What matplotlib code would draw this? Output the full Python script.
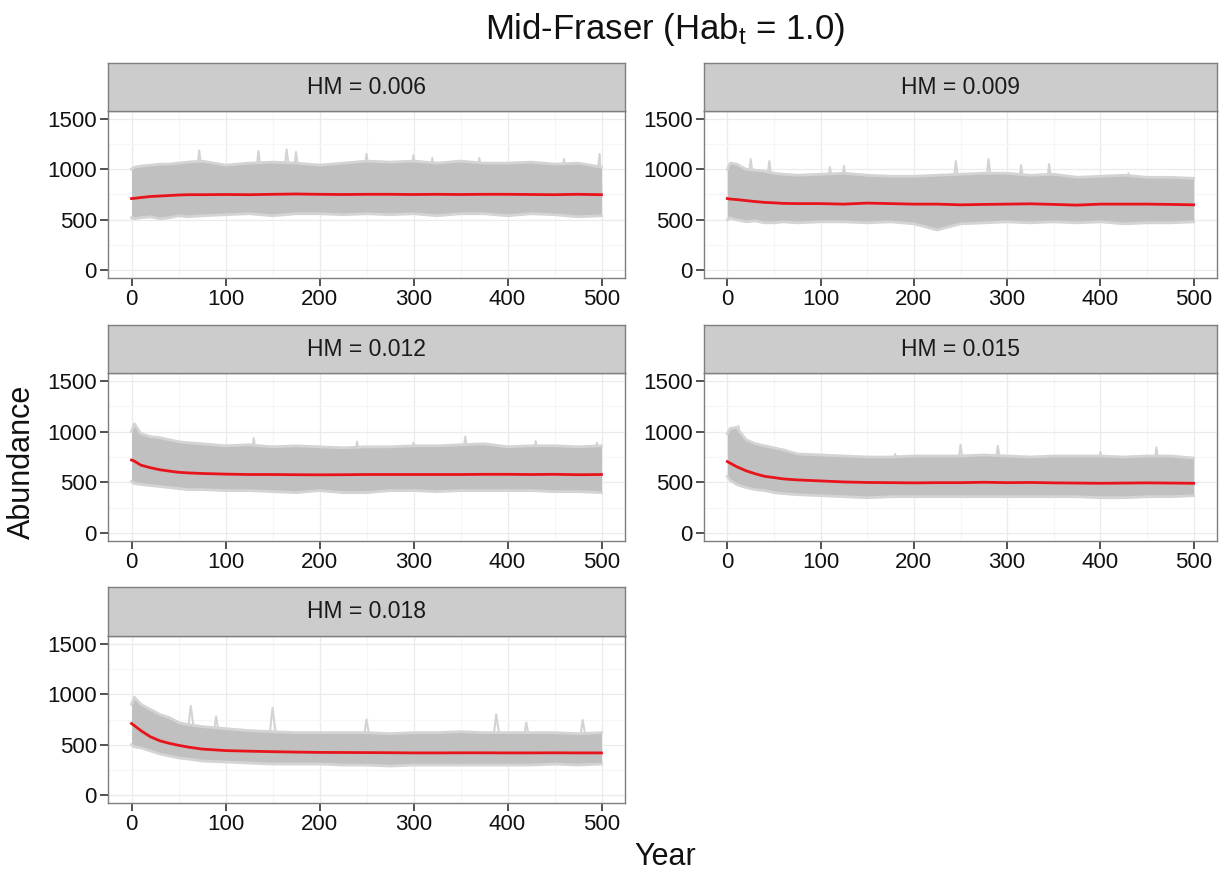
import numpy as np
import matplotlib
matplotlib.use("Agg")
import matplotlib.pyplot as plt

plt.rcParams['font.family'] = ['Liberation Sans', 'DejaVu Sans']
plt.rcParams['mathtext.fontset'] = 'custom'
plt.rcParams['mathtext.rm'] = 'Liberation Sans'
plt.rcParams['mathtext.it'] = 'Liberation Sans'

# ---------------- data ----------------
panel_labels = ["HM = 0.006", "HM = 0.009", "HM = 0.012", "HM = 0.015", "HM = 0.018"]
years = [0, 3, 10, 20, 30, 40, 50, 60, 75, 100, 125, 150, 175, 200, 225, 250,
         275, 300, 325, 350, 375, 400, 425, 450, 475, 500]

mean_006 = [710, 712, 720, 730, 735, 740, 745, 748, 748, 750, 748, 752, 755, 752, 750, 752,
            752, 750, 752, 750, 752, 752, 750, 748, 752, 748]
hi_006 = [1000, 1020, 1030, 1040, 1050, 1050, 1060, 1070, 1080, 1040, 1060, 1070, 1060, 1040, 1060, 1080,
          1070, 1080, 1060, 1080, 1060, 1060, 1070, 1050, 1060, 1020]
lo_006 = [520, 510, 520, 530, 510, 520, 540, 530, 540, 550, 560, 540, 560, 560, 550, 560,
          550, 560, 540, 560, 560, 540, 560, 550, 530, 540]
spk_yr_006 = [72, 135, 165, 175, 250, 300, 320, 370, 460, 498]
spk_pk_006 = [1185, 1180, 1195, 1170, 1150, 1140, 1110, 1110, 1100, 1150]

mean_009 = [710, 705, 700, 690, 680, 672, 668, 662, 660, 660, 655, 665, 660, 655, 655, 648,
            652, 655, 658, 652, 645, 655, 655, 655, 652, 648]
hi_009 = [1000, 1060, 1050, 1000, 990, 980, 960, 950, 940, 950, 960, 940, 930, 930, 940, 950,
          960, 960, 940, 950, 920, 930, 940, 920, 920, 910]
lo_009 = [500, 520, 500, 480, 490, 470, 470, 480, 470, 480, 480, 470, 480, 460, 400, 460,
          470, 480, 470, 480, 470, 480, 460, 470, 470, 480]
spk_yr_009 = [25, 45, 110, 125, 245, 280, 315, 345, 430]
spk_pk_009 = [1100, 1080, 1020, 1030, 1080, 1100, 1040, 1050, 960]

mean_012 = [720, 710, 670, 645, 625, 612, 600, 594, 588, 582, 578, 578, 576, 575, 576, 578,
            578, 578, 578, 578, 580, 580, 578, 580, 576, 578]
hi_012 = [1000, 1075, 980, 950, 940, 920, 900, 890, 880, 860, 870, 850, 860, 850, 840, 850,
          850, 860, 860, 870, 880, 850, 860, 860, 850, 860]
lo_012 = [510, 490, 480, 470, 460, 450, 440, 430, 430, 420, 420, 410, 400, 420, 400, 400,
          420, 420, 410, 420, 420, 420, 420, 410, 410, 400]
spk_yr_012 = [130, 240, 300, 355, 430, 495]
spk_pk_012 = [935, 900, 890, 950, 905, 890]

mean_015 = [705, 690, 655, 615, 585, 560, 548, 535, 525, 515, 505, 500, 498, 496, 498, 498,
            502, 498, 500, 496, 494, 492, 494, 496, 494, 492]
hi_015 = [980, 1030, 1040, 920, 880, 860, 840, 820, 780, 770, 760, 750, 750, 760, 760, 760,
          770, 760, 750, 760, 760, 760, 750, 760, 760, 740]
lo_015 = [560, 520, 480, 450, 430, 420, 400, 390, 380, 370, 360, 350, 360, 360, 360, 360,
          360, 360, 360, 360, 360, 350, 350, 360, 360, 370]
spk_yr_015 = [12, 40, 180, 250, 290, 400, 460]
spk_pk_015 = [1055, 860, 780, 870, 860, 800, 845]

mean_018 = [710, 690, 640, 580, 540, 515, 495, 478, 458, 443, 437, 432, 428, 425, 424, 423,
            422, 420, 420, 421, 421, 420, 420, 421, 420, 420]
hi_018 = [900, 970, 900, 850, 800, 770, 720, 700, 680, 660, 640, 630, 620, 620, 620, 620,
          610, 620, 620, 630, 620, 620, 620, 620, 610, 620]
lo_018 = [500, 480, 470, 440, 410, 390, 370, 360, 340, 330, 320, 310, 310, 310, 300, 300,
          290, 300, 300, 300, 300, 300, 300, 310, 300, 310]
spk_yr_018 = [63, 90, 150, 250, 388, 420, 480]
spk_pk_018 = [885, 780, 865, 750, 800, 720, 745]

panels = [
    (mean_006, hi_006, lo_006, spk_yr_006, spk_pk_006),
    (mean_009, hi_009, lo_009, spk_yr_009, spk_pk_009),
    (mean_012, hi_012, lo_012, spk_yr_012, spk_pk_012),
    (mean_015, hi_015, lo_015, spk_yr_015, spk_pk_015),
    (mean_018, hi_018, lo_018, spk_yr_018, spk_pk_018),
]

x_ticks = [0, 100, 200, 300, 400, 500]
y_ticks = [0, 500, 1000, 1500]

# ---------------- layout ----------------
W, H = 1225, 873
fig = plt.figure(figsize=(W / 100, H / 100), dpi=100)
fig.patch.set_facecolor('white')

col_x = [(108, 625), (704, 1217)]
row_y = [(63, 111, 278), (325, 373, 541), (587, 636, 803)]  # strip top, plot top, plot bottom

BORDER = '#7f7f7f'

for i, (mean, hi, lo, syr, spk) in enumerate(panels):
    r, c = divmod(i, 2)
    x0, x1 = col_x[c]
    st, pt, pb = row_y[r]
    ax = fig.add_axes([x0 / W, 1 - pb / H, (x1 - x0) / W, (pb - pt) / H])
    sax = fig.add_axes([x0 / W, 1 - pt / H, (x1 - x0) / W, (pt - st) / H])

    # strip
    sax.set_facecolor('#cccccc')
    sax.set_xticks([]); sax.set_yticks([])
    for s in sax.spines.values():
        s.set_color(BORDER); s.set_linewidth(1.0)
    sax.text(0.5, 0.5, panel_labels[i], ha='center', va='center', fontsize=16.5,
             color='#1a1a1a', transform=sax.transAxes)

    # panel
    ax.set_xlim(-25, 525)
    ax.set_ylim(-75, 1575)
    ax.set_xticks(x_ticks)
    ax.set_yticks(y_ticks)
    ax.set_xticks([50, 150, 250, 350, 450], minor=True)
    ax.set_yticks([250, 750, 1250], minor=True)
    ax.grid(which='major', color='#ebebeb', linewidth=0.9, zorder=0)
    ax.grid(which='minor', color='#f6f6f6', linewidth=0.8, zorder=0)
    ax.set_axisbelow(True)
    ax.tick_params(which='minor', length=0)
    ax.tick_params(which='major', length=6, width=1.2, color='#333333',
                   labelsize=16, labelcolor='#111111', pad=2)
    for s in ax.spines.values():
        s.set_color(BORDER); s.set_linewidth(1.0)

    yr = np.array(years, dtype=float)
    # spikes (excursions of single trajectories)
    for sy, sp in zip(syr, spk):
        base = np.interp(sy, yr, mean)
        ax.plot([max(sy - 5, 0), sy, min(sy + 6, 500)], [base, sp, base],
                color='#d3d3d3', lw=1.5, zorder=2, solid_joinstyle='round')
    # band of trajectories
    ax.fill_between(yr, lo, hi, color='#c0c0c0', lw=0, zorder=3)
    ax.plot(yr, hi, color='#d4d4d4', lw=2.0, zorder=3)
    ax.plot(yr, lo, color='#d4d4d4', lw=2.0, zorder=3)
    # mean trajectory
    ax.plot(yr, mean, color='#e8141b', lw=2.0, zorder=5)

fig.text(665 / W, 1 - 30 / H, r'Mid-Fraser (Hab$_\mathrm{t}$ = 1.0)', ha='center', va='center',
         fontsize=25, color='#111111')
fig.text(22 / W, 1 - 462 / H, 'Abundance', rotation=90, ha='center', va='center',
         fontsize=22, color='#111111')
fig.text(665 / W, 1 - 857 / H, 'Year', ha='center', va='center', fontsize=22, color='#111111')

fig.savefig('out.png', dpi=100, facecolor='white')
